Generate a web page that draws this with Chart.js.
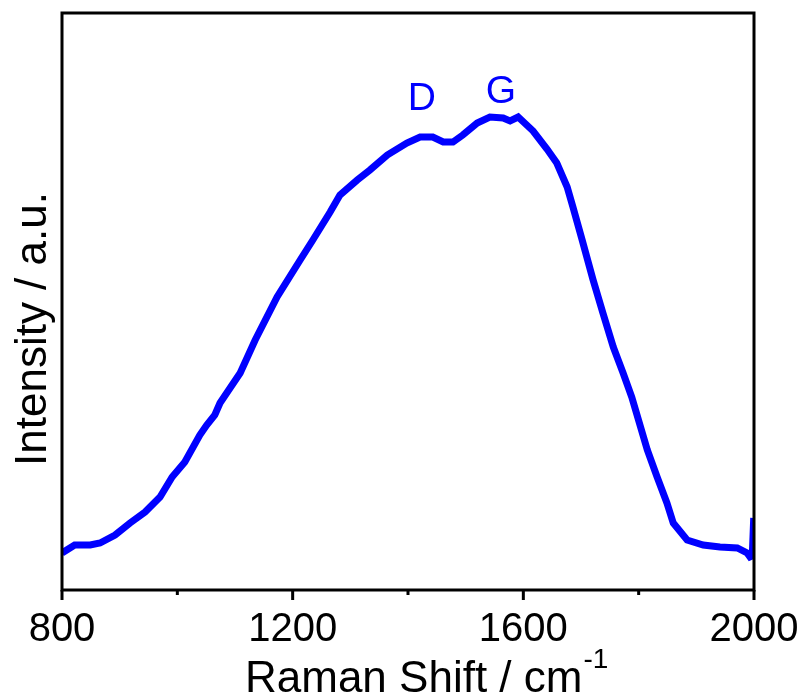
<!DOCTYPE html>
<html>
<head>
<meta charset="utf-8">
<script src="https://cdn.jsdelivr.net/npm/chart.js@4/dist/chart.umd.min.js"></script>
<style>
  html, body { margin: 0; padding: 0; background: #fff; }
  #wrap { width: 805px; height: 699px; }
</style>
</head>
<body>
<div id="wrap"><canvas id="myChart"></canvas></div>
<script>
// Raman spectrum (x: cm-1, y: arbitrary intensity)
const shift = [800, 822, 849, 866, 892, 918, 944, 970, 991, 1013, 1039, 1051, 1065, 1074,
  1109, 1135, 1173, 1213, 1235, 1265, 1282, 1312, 1334, 1364, 1398, 1421, 1443, 1461,
  1478, 1495, 1520, 1542, 1565, 1577, 1591, 1617, 1641, 1658, 1676, 1686, 1702, 1721,
  1738, 1756, 1773, 1788, 1815, 1832, 1849, 1860, 1884, 1912, 1941, 1971, 1988, 1993,
  1997, 1999.5];
const intensity = [37, 45, 45, 47, 55, 67, 78, 93, 113, 128, 155, 165, 175, 187,
  217, 250, 293, 330, 350, 378, 395, 410, 420, 435, 447, 453, 453, 448,
  448, 455, 467, 473, 472, 469, 473, 459, 441, 427, 403, 383, 350, 310,
  277, 243, 217, 193, 140, 113, 87, 67, 50, 45, 43, 42, 37, 33,
  34, 72];

const xTicks = [800, 1200, 1600, 2000];
const xMinorTicks = [1000, 1400, 1800];

const peakLabels = ['D', 'G'];
const peakX = [1424, 1561];
const peakY = [491, 498];

const FONT = '"Liberation Sans", Arial, sans-serif';
const BLUE = '#0000ff';

const points = shift.map((s, i) => ({ x: s, y: intensity[i] }));

// frame, tick marks, axis titles and peak labels
const decor = {
  id: 'decor',
  afterDatasetsDraw(chart) {
    const ctx = chart.ctx;
    const a = chart.chartArea;
    const xs = chart.scales.x;
    const ys = chart.scales.y;
    ctx.save();
    ctx.strokeStyle = '#000';
    ctx.lineWidth = 3;
    ctx.strokeRect(a.left, a.top, a.right - a.left, a.bottom - a.top);

    ctx.beginPath();
    xTicks.forEach(v => {
      const px = xs.getPixelForValue(v);
      ctx.moveTo(px, a.bottom);
      ctx.lineTo(px, a.bottom + 10);
    });
    xMinorTicks.forEach(v => {
      const px = xs.getPixelForValue(v);
      ctx.moveTo(px, a.bottom);
      ctx.lineTo(px, a.bottom + 5);
    });
    ctx.stroke();

    // x title with superscript
    ctx.fillStyle = '#000';
    ctx.textBaseline = 'alphabetic';
    ctx.textAlign = 'left';
    const main = 'Raman Shift / cm';
    ctx.font = '44px ' + FONT;
    const w1 = ctx.measureText(main).width;
    const x0 = 245;
    ctx.fillText(main, x0, 692);
    ctx.font = '28px ' + FONT;
    ctx.fillText('-1', x0 + w1 + 1, 668);

    // y title
    ctx.save();
    ctx.translate(46, 329);
    ctx.rotate(-Math.PI / 2);
    ctx.font = '44px ' + FONT;
    ctx.textAlign = 'center';
    ctx.fillText('Intensity / a.u.', 0, 0);
    ctx.restore();

    // peak labels
    ctx.fillStyle = BLUE;
    ctx.font = '39px ' + FONT;
    ctx.textAlign = 'center';
    ctx.textBaseline = 'middle';
    peakLabels.forEach((t, i) => {
      ctx.fillText(t, xs.getPixelForValue(peakX[i]), ys.getPixelForValue(peakY[i]));
    });
    ctx.restore();
  }
};

new Chart(document.getElementById('myChart'), {
  type: 'line',
  data: {
    datasets: [{
      data: points,
      borderColor: BLUE,
      borderWidth: 7,
      pointRadius: 0,
      tension: 0,
      fill: false
    }]
  },
  options: {
    responsive: true,
    maintainAspectRatio: false,
    animation: false,
    layout: { padding: { left: 62, top: 13, right: 51, bottom: 0 } },
    plugins: { legend: { display: false }, tooltip: { enabled: false } },
    scales: {
      x: {
        type: 'linear',
        min: 800,
        max: 2000,
        grid: { display: false, drawTicks: false },
        border: { display: false },
        ticks: {
          stepSize: 200,
          autoSkip: false,
          maxRotation: 0,
          padding: 16,
          color: '#000',
          font: { size: 40, family: FONT },
          callback: v => xTicks.includes(v) ? String(v) : ''
        },
        afterFit: s => {
          s.height = 109;
          s.paddingLeft = 0;
          s.paddingRight = 0;
        }
      },
      y: {
        display: false,
        min: 0,
        max: 577
      }
    }
  },
  plugins: [decor]
});
</script>
</body>
</html>
